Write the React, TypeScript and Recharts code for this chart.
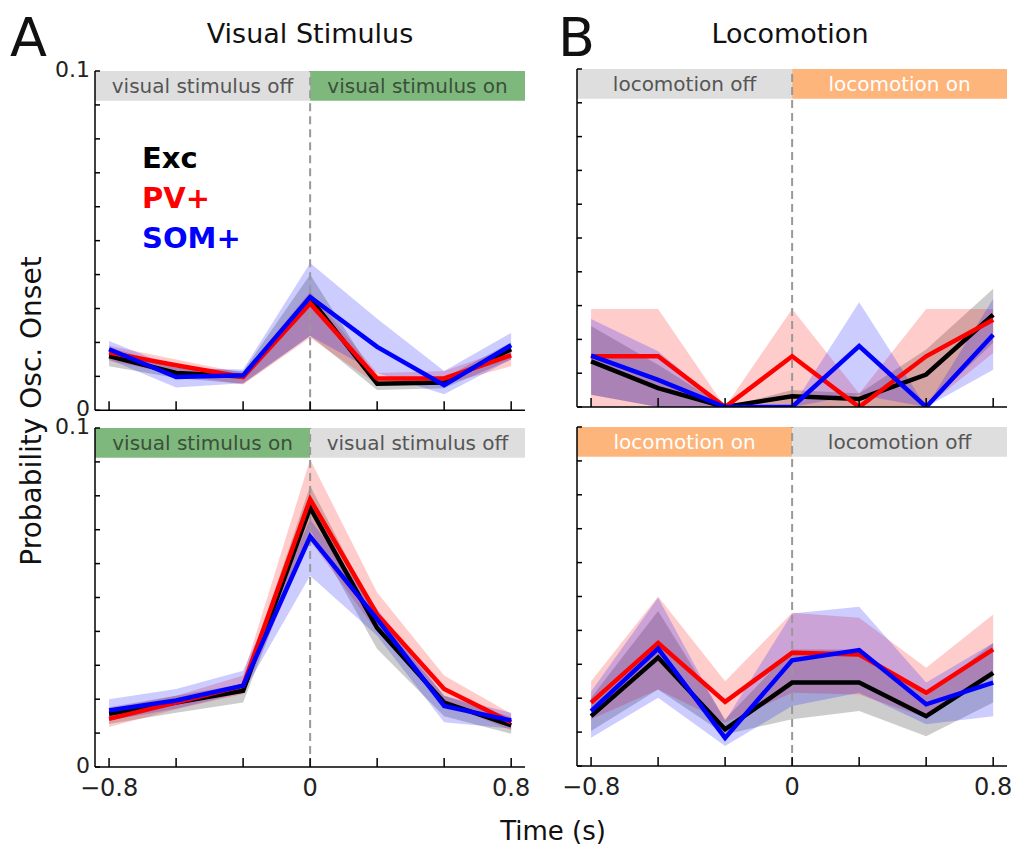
import React from 'react'
import { Area, ComposedChart, Line, ReferenceArea, ReferenceLine, XAxis, YAxis } from 'recharts'

const timePoints = [-0.8, -0.5333, -0.2667, 0, 0.2667, 0.5333, 0.8]
const yTicks = [0, 0.01, 0.02, 0.03, 0.04, 0.05, 0.06, 0.07, 0.08, 0.09, 0.1]

// A, top: visual stimulus off -> on
const visOnExc = [0.016, 0.011, 0.01, 0.033, 0.0078, 0.0082, 0.018]
const visOnExcLo = [0.013, 0.0095, 0.0078, 0.022, 0.006, 0.0065, 0.015]
const visOnExcHi = [0.0185, 0.013, 0.0115, 0.04, 0.009, 0.0095, 0.02]
const visOnPv = [0.017, 0.0133, 0.0098, 0.0315, 0.0094, 0.0094, 0.0162]
const visOnPvLo = [0.0145, 0.0106, 0.0076, 0.0214, 0.0076, 0.0076, 0.013]
const visOnPvHi = [0.019, 0.015, 0.011, 0.035, 0.011, 0.0116, 0.0184]
const visOnSom = [0.018, 0.0098, 0.0103, 0.0334, 0.0187, 0.0074, 0.0192]
const visOnSomLo = [0.015, 0.0067, 0.008, 0.0219, 0.011, 0.0047, 0.015]
const visOnSomHi = [0.0204, 0.0125, 0.012, 0.0434, 0.027, 0.0116, 0.0228]

// A, bottom: visual stimulus on -> off
const visOffExc = [0.0157, 0.019, 0.0225, 0.0765, 0.041, 0.019, 0.0123]
const visOffExcLo = [0.0127, 0.016, 0.019, 0.07, 0.0348, 0.015, 0.0098]
const visOffExcHi = [0.0176, 0.021, 0.0245, 0.083, 0.0446, 0.021, 0.0147]
const visOffPv = [0.0142, 0.019, 0.024, 0.079, 0.045, 0.023, 0.0132]
const visOffPvLo = [0.0118, 0.017, 0.0215, 0.0667, 0.04, 0.019, 0.0108]
const visOffPvHi = [0.0172, 0.021, 0.027, 0.0907, 0.0515, 0.027, 0.0157]
const visOffSom = [0.0167, 0.0196, 0.024, 0.068, 0.0436, 0.018, 0.0137]
const visOffSomLo = [0.0137, 0.0172, 0.022, 0.0564, 0.0387, 0.0132, 0.0113]
const visOffSomHi = [0.02, 0.023, 0.0284, 0.073, 0.0466, 0.021, 0.016]

// B, top: locomotion off -> on
const locoOnExc = [0.0135, 0.0056, 0, 0.0032, 0.0024, 0.0096, 0.0273]
const locoOnExcLo = [0.0036, 0, 0, 0, 0, 0, 0.019]
const locoOnExcHi = [0.024, 0.0125, 0, 0.005, 0.004, 0.017, 0.035]
const locoOnPv = [0.015, 0.015, 0, 0.015, 0, 0.015, 0.0258]
const locoOnPvLo = [0, 0, 0, 0, 0, 0, 0.016]
const locoOnPvHi = [0.029, 0.029, 0, 0.029, 0.004, 0.029, 0.029]
const locoOnSom = [0.0152, 0.008, 0, 0, 0.018, 0, 0.0214]
const locoOnSomLo = [0.0036, 0, 0, 0, 0.0036, 0, 0.011]
const locoOnSomHi = [0.026, 0.0165, 0, 0, 0.031, 0, 0.032]

// B, bottom: locomotion on -> off
const locoOffExc = [0.0147, 0.032, 0.0108, 0.0246, 0.0246, 0.0147, 0.0275]
const locoOffExcLo = [0.0103, 0.0226, 0.0093, 0.0138, 0.0162, 0.0088, 0.0187]
const locoOffExcHi = [0.0201, 0.0457, 0.0138, 0.0344, 0.0344, 0.0206, 0.0363]
const locoOffPv = [0.0187, 0.0363, 0.0189, 0.0334, 0.0329, 0.0216, 0.0344]
const locoOffPvLo = [0.0138, 0.0226, 0.0128, 0.0216, 0.0211, 0.0142, 0.0265]
const locoOffPvHi = [0.025, 0.05, 0.025, 0.0452, 0.0437, 0.029, 0.0447]
const locoOffSom = [0.0162, 0.0346, 0.0083, 0.0312, 0.0342, 0.0182, 0.0246]
const locoOffSomLo = [0.0083, 0.0201, 0.0059, 0.0177, 0.0216, 0.0123, 0.0147]
const locoOffSomHi = [0.022, 0.0496, 0.0133, 0.045, 0.047, 0.0246, 0.0363]

const FONT = '"DejaVu Sans", Verdana, sans-serif'
const X_MIN = -0.856
const X_MAX = 0.855
const BAND_LOW = 0.0912

const GREY_BAND = '#dedede'
const GREEN_BAND = '#7fb87d'
const ORANGE_BAND = '#feb57b'

const buildRows = (m: number[][]) =>
  timePoints.map((t, i) => ({
    t,
    exc: m[0][i],
    excBand: [m[1][i], m[2][i]],
    pv: m[3][i],
    pvBand: [m[4][i], m[5][i]],
    som: m[6][i],
    somBand: [m[7][i], m[8][i]],
  }))

const visOnRows = buildRows([visOnExc, visOnExcLo, visOnExcHi, visOnPv, visOnPvLo, visOnPvHi, visOnSom, visOnSomLo, visOnSomHi])
const visOffRows = buildRows([visOffExc, visOffExcLo, visOffExcHi, visOffPv, visOffPvLo, visOffPvHi, visOffSom, visOffSomLo, visOffSomHi])
const locoOnRows = buildRows([locoOnExc, locoOnExcLo, locoOnExcHi, locoOnPv, locoOnPvLo, locoOnPvHi, locoOnSom, locoOnSomLo, locoOnSomHi])
const locoOffRows = buildRows([locoOffExc, locoOffExcLo, locoOffExcHi, locoOffPv, locoOffPvLo, locoOffPvHi, locoOffSom, locoOffSomLo, locoOffSomHi])

interface BandInfo {
  text: string
  fill: string
  color: string
}

interface PanelProps {
  rows: ReturnType<typeof buildRows>
  left: number
  top: number
  right: number
  bottom: number
  yLabels: boolean
  xLabels: boolean
  before: BandInfo
  after: BandInfo
}

const Panel = ({ rows, left, top, right, bottom, yLabels, xLabels, before, after }: PanelProps) => {
  const padL = 90
  const yAxisW = 60
  const padT = 25
  const padR = 20
  const axisH = 50
  const w = right - left + padL + padR
  const h = bottom - top + padT + axisH
  const yFmt = (v: number) => {
    if (!yLabels) return ''
    if (v === 0) return '0'
    if (Math.abs(v - 0.1) < 1e-9) return '0.1'
    return ''
  }
  const xFmt = (v: number) => {
    if (!xLabels) return ''
    if (v === -0.8) return '\u22120.8'
    if (v === 0) return '0'
    if (v === 0.8) return '0.8'
    return ''
  }
  return (
    <div style={{ position: 'absolute', left: left - padL, top: top - padT }}>
      <ComposedChart width={w} height={h} data={rows} margin={{ top: padT, left: padL - yAxisW, right: padR, bottom: 0 }}>
        <XAxis
          dataKey="t"
          type="number"
          domain={[X_MIN, X_MAX]}
          ticks={timePoints}
          interval={0}
          allowDataOverflow
          height={axisH}
          tickSize={-9}
          tickMargin={21}
          tickFormatter={xFmt}
          stroke="#000"
          strokeWidth={1.5}
          tick={{ fill: '#222', fontSize: 24, fontFamily: FONT }}
        />
        <YAxis
          type="number"
          domain={[0, 0.1]}
          ticks={yTicks}
          interval={0}
          allowDataOverflow
          width={yAxisW}
          tickSize={-5}
          tickMargin={10}
          tickFormatter={yFmt}
          stroke="#000"
          strokeWidth={1.5}
          tick={{ fill: '#222', fontSize: 22, fontFamily: FONT, dy: -2 }}
        />
        <ReferenceArea
          x1={X_MIN}
          x2={0}
          y1={BAND_LOW}
          y2={0.1}
          fill={before.fill}
          fillOpacity={1}
          stroke="none"
          label={{ value: before.text, position: 'center', fill: before.color, fontSize: 20, fontFamily: FONT }}
        />
        <ReferenceArea
          x1={0}
          x2={X_MAX}
          y1={BAND_LOW}
          y2={0.1}
          fill={after.fill}
          fillOpacity={1}
          stroke="none"
          label={{ value: after.text, position: 'center', fill: after.color, fontSize: 20, fontFamily: FONT }}
        />
        <Area dataKey="excBand" type="linear" stroke="none" fill="#000" fillOpacity={0.2} dot={false} activeDot={false} isAnimationActive={false} />
        <Area dataKey="pvBand" type="linear" stroke="none" fill="#ff0000" fillOpacity={0.2} dot={false} activeDot={false} isAnimationActive={false} />
        <Area dataKey="somBand" type="linear" stroke="none" fill="#0000ff" fillOpacity={0.2} dot={false} activeDot={false} isAnimationActive={false} />
        <ReferenceLine x={0} stroke="#999" strokeWidth={2} strokeDasharray="8 5" />
        <Line dataKey="exc" type="linear" stroke="#000" strokeWidth={4.5} dot={false} activeDot={false} isAnimationActive={false} />
        <Line dataKey="pv" type="linear" stroke="#ff0000" strokeWidth={4.5} dot={false} activeDot={false} isAnimationActive={false} />
        <Line dataKey="som" type="linear" stroke="#0000ff" strokeWidth={4.5} dot={false} activeDot={false} isAnimationActive={false} />
      </ComposedChart>
    </div>
  )
}

const txt = (extra: React.CSSProperties): React.CSSProperties => ({
  position: 'absolute',
  fontFamily: FONT,
  color: '#111',
  whiteSpace: 'nowrap',
  lineHeight: 1,
  ...extra,
})

export default function App() {
  return (
    <div style={{ position: 'absolute', left: 0, top: 0, width: 1035, height: 853, background: '#fff', overflow: 'hidden' }}>
      <Panel
        rows={visOnRows}
        left={95}
        top={70.7}
        right={525}
        bottom={410}
        yLabels
        xLabels={false}
        before={{ text: 'visual stimulus off', fill: GREY_BAND, color: '#555' }}
        after={{ text: 'visual stimulus on', fill: GREEN_BAND, color: '#3b4f3a' }}
      />
      <Panel
        rows={visOffRows}
        left={95}
        top={428}
        right={525}
        bottom={767}
        yLabels
        xLabels
        before={{ text: 'visual stimulus on', fill: GREEN_BAND, color: '#3b4f3a' }}
        after={{ text: 'visual stimulus off', fill: GREY_BAND, color: '#555' }}
      />
      <Panel
        rows={locoOnRows}
        left={577}
        top={69}
        right={1007}
        bottom={407}
        yLabels={false}
        xLabels={false}
        before={{ text: 'locomotion off', fill: GREY_BAND, color: '#555' }}
        after={{ text: 'locomotion on', fill: ORANGE_BAND, color: '#fff' }}
      />
      <Panel
        rows={locoOffRows}
        left={577}
        top={427}
        right={1007}
        bottom={766}
        yLabels={false}
        xLabels
        before={{ text: 'locomotion on', fill: ORANGE_BAND, color: '#fff' }}
        after={{ text: 'locomotion off', fill: GREY_BAND, color: '#555' }}
      />

      <div style={txt({ left: 10, top: 11, fontSize: 54 })}>A</div>
      <div style={txt({ left: 558, top: 11, fontSize: 54 })}>B</div>
      <div style={txt({ left: 310, top: 33, fontSize: 27, transform: 'translate(-50%, -50%)' })}>Visual Stimulus</div>
      <div style={txt({ left: 790, top: 33, fontSize: 27, transform: 'translate(-50%, -50%)' })}>Locomotion</div>

      <div style={txt({ left: 142, top: 144, fontSize: 29, fontWeight: 'bold', color: '#000' })}>Exc</div>
      <div style={txt({ left: 142, top: 184, fontSize: 29, fontWeight: 'bold', color: '#ff0000' })}>PV+</div>
      <div style={txt({ left: 142, top: 224, fontSize: 29, fontWeight: 'bold', color: '#0000ff' })}>SOM+</div>

      <div style={txt({ left: 32, top: 411, fontSize: 28, transform: 'translate(-50%, -50%) rotate(-90deg)' })}>
        Probability Osc. Onset
      </div>
      <div style={txt({ left: 553, top: 831, fontSize: 26, transform: 'translate(-50%, -50%)' })}>Time (s)</div>
    </div>
  )
}
